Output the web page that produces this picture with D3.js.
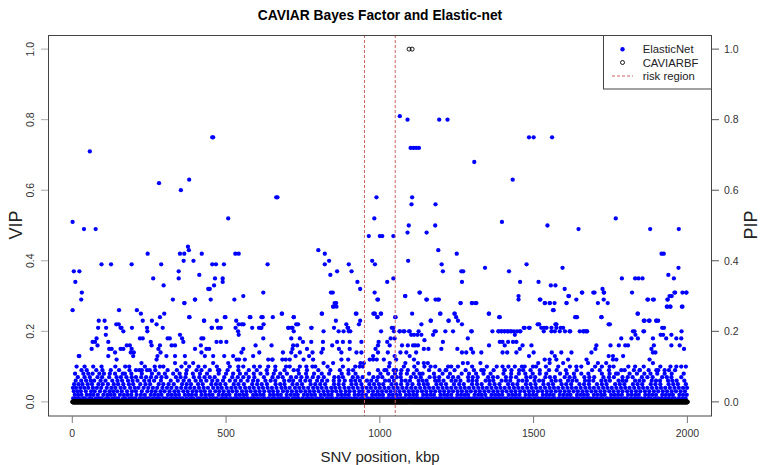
<!DOCTYPE html>
<html><head><meta charset="utf-8">
<script src="https://cdn.jsdelivr.net/npm/d3@7"></script>
<style>body{margin:0;background:#fff}svg{display:block;font-family:"Liberation Sans",Arial,Helvetica,sans-serif}</style>
</head><body><svg id="c" width="761" height="465"></svg>
<script>
// ---------------- DATA ----------------
const chartTitle = "CAVIAR Bayes Factor and Elastic-net";
const xTicks = [0, 500, 1000, 1500, 2000];
const yTicks = [0.0, 0.2, 0.4, 0.6, 0.8, 1.0];
const riskRegion = [950, 1050];
const legendLabels = ["ElasticNet", "CAVIARBF", "risk region"];

// ElasticNet VIP: high values  [position kbp, VIP]
const enTop = [[1,0.51],[38,0.49],[57,0.71],[76,0.49],[282,0.62],[353,0.60],[380,0.63],[455,0.75],[458,0.75],[507,0.52],[663,0.58],[667,0.58],[964,0.47],[982,0.52],[989,0.58],[1000,0.47],[1008,0.47],[1044,0.47],[1065,0.81],[1090,0.80],[1100,0.72],[1109,0.72],[1118,0.72],[1127,0.72],[1193,0.80],[1220,0.80],[1307,0.68],[1432,0.63],[1485,0.75],[1500,0.75],[1560,0.75],[1105,0.58],[1103,0.56],[1181,0.56],[1094,0.50],[1090,0.48],[1152,0.48],[1180,0.50],[1397,0.51],[1545,0.50],[1646,0.49],[1767,0.52],[1879,0.49],[1972,0.49]];

const enMid = [[1,0.26],[5,0.37],[23,0.37],[10,0.34],[31,0.31],[29,0.29],[95,0.39],[126,0.39],[193,0.39],[245,0.42],[263,0.35],[289,0.39],[297,0.33],[327,0.29],[346,0.37],[346,0.35],[350,0.42],[364,0.42],[362,0.40],[376,0.44],[379,0.43],[365,0.28],[381,0.24],[394,0.40],[399,0.29],[413,0.36],[421,0.42],[447,0.32],[450,0.29],[455,0.39],[467,0.39],[461,0.33],[464,0.35],[489,0.35],[489,0.34],[493,0.39],[530,0.42],[541,0.42],[527,0.29],[556,0.30],[635,0.39],[621,0.31],[800,0.43],[821,0.42],[821,0.39],[835,0.40],[839,0.36],[861,0.37],[841,0.31],[847,0.31],[849,0.27],[858,0.28],[899,0.39],[908,0.37],[927,0.34],[936,0.32],[975,0.40],[984,0.39],[983,0.31],[992,0.29],[992,0.24],[979,0.25],[922,0.25],[811,0.25],[681,0.25],
[152,0.26],[210,0.26],[223,0.25],[86,0.23],[105,0.23],[84,0.21],[110,0.21],[143,0.22],[151,0.22],[157,0.21],[160,0.21],[194,0.21],[229,0.23],[243,0.21],[259,0.23],[274,0.22],[285,0.24],[294,0.21],[299,0.25],[428,0.23],[454,0.21],[483,0.21],[470,0.23],[498,0.24],[533,0.23],[541,0.22],[551,0.22],[557,0.22],[531,0.21],[579,0.24],[607,0.21],[613,0.21],[619,0.24],[622,0.22],[652,0.24],[703,0.21],[713,0.21],[720,0.24],[728,0.22],[778,0.21],[851,0.21],[866,0.20],[857,0.23],[895,0.21],[899,0.20],[932,0.22],[936,0.23],
[1190,0.43],[1250,0.42],[1092,0.40],[1201,0.39],[1205,0.37],[1265,0.37],[1271,0.37],[1342,0.38],[1420,0.37],[1477,0.39],[1594,0.38],[1916,0.42],[1923,0.42],[1938,0.36],[1956,0.35],[1971,0.38],[1787,0.35],[1830,0.35],[1841,0.35],[1854,0.35],[1024,0.34],[1044,0.35],[1004,0.25],[1267,0.34],[1456,0.34],[1516,0.34],[1556,0.33],[1571,0.33],[1601,0.32],[1724,0.32],[1728,0.31],[1984,0.31],[1997,0.31],[1657,0.31],[1694,0.31],[1130,0.31],[1082,0.30],[1451,0.30],[1451,0.29],[1153,0.29],[1181,0.29],[1192,0.29],[1520,0.29],[1613,0.30],[1639,0.29],[1728,0.29],[1741,0.28],[1870,0.29],[1891,0.29],[1936,0.29],[1949,0.30],[1960,0.31],[1263,0.28],[1300,0.28],[1314,0.28],[1537,0.28],[1553,0.28],[1568,0.28],[1565,0.26],[1607,0.28],[1933,0.27],[1944,0.27],[1984,0.27],[1051,0.24],[1105,0.25],[1196,0.25],[1243,0.25],[1354,0.25],[1388,0.24],[1635,0.24],[1641,0.24],[1721,0.24],[1838,0.25],[1858,0.23],[1875,0.23],[1899,0.23],[1905,0.23],[1748,0.22],[1135,0.22],[1166,0.23],[1224,0.23],[1254,0.23],[1513,0.22],[1534,0.21],[1571,0.22],[1558,0.21],[1588,0.21],[1918,0.21],[1468,0.21],[1485,0.21],[1065,0.20],[1077,0.20],[1095,0.20],[1126,0.20],[1182,0.20],[1213,0.20],[1238,0.20],[1299,0.20],[1387,0.20],[1396,0.20],[1405,0.20],[1414,0.20],[1424,0.20],[1436,0.20],[1446,0.20],[1457,0.20],[1569,0.20],[1602,0.20],[1619,0.20],[1661,0.20],[1673,0.20],[1828,0.20],[1857,0.20],[1981,0.20],[1004,0.20],[1044,0.21]];

const enLow = [[21,0.13],[109,0.19],[79,0.18],[74,0.17],[66,0.17],[82,0.16],[63,0.15],[117,0.17],[120,0.15],[128,0.15],[157,0.15],[166,0.15],[177,0.16],[187,0.16],[193,0.15],[190,0.14],[200,0.14],[198,0.13],[139,0.14],[144,0.12],[117,0.13],[220,0.18],[229,0.18],[255,0.17],[258,0.16],[280,0.15],[285,0.16],[287,0.14],[277,0.13],[274,0.12],[23,0.13],[225,0.11],[185,0.10],[218,0.09],[226,0.09],[252,0.09],[285,0.10],[166,0.20],[244,0.20],
[310,0.18],[317,0.18],[350,0.19],[357,0.18],[323,0.16],[334,0.16],[361,0.17],[420,0.18],[426,0.18],[418,0.16],[436,0.15],[445,0.15],[469,0.17],[483,0.17],[501,0.17],[556,0.15],[550,0.14],[596,0.16],[621,0.18],[648,0.16],[608,0.14],[306,0.13],[334,0.13],[366,0.13],[399,0.15],[420,0.14],[431,0.13],[458,0.13],[494,0.13],[523,0.13],[534,0.12],[542,0.12],[561,0.12],[588,0.13],[637,0.12],[650,0.12],[334,0.11],[368,0.11],[393,0.11],[404,0.09],[431,0.10],[458,0.11],[474,0.09],[507,0.11],[556,0.10],[591,0.10],[637,0.10],[539,0.20],[541,0.19],[453,0.21],[474,0.21],[585,0.21],[615,0.21],[380,0.24],[429,0.23],[496,0.24],[577,0.24],[615,0.24],[364,0.28],[399,0.29],[442,0.32],
[853,0.28],[859,0.27],[848,0.27],[682,0.25],[720,0.24],[812,0.25],[924,0.25],[983,0.25],[702,0.21],[716,0.21],[720,0.20],[734,0.22],[777,0.21],[817,0.20],[891,0.22],[897,0.21],[904,0.20],[882,0.20],[712,0.18],[740,0.18],[750,0.17],[718,0.16],[731,0.16],[716,0.15],[777,0.17],[815,0.17],[845,0.16],[861,0.17],[880,0.17],[902,0.17],[940,0.17],[763,0.15],[781,0.14],[770,0.13],[810,0.14],[815,0.15],[867,0.15],[875,0.14],[902,0.15],[924,0.14],[940,0.14],[685,0.14],[712,0.14],[726,0.13],[740,0.14],[651,0.12],[683,0.12],[694,0.12],[707,0.12],[752,0.12],[783,0.12],[817,0.11],[848,0.11],[875,0.12],[897,0.12],[937,0.11],[948,0.11],[967,0.12],[978,0.12],[707,0.10],[720,0.09],[734,0.09],[761,0.10],[781,0.10],[913,0.09],[934,0.10],[945,0.10],[978,0.13],[986,0.15],[994,0.16],
[1083,0.30],[1129,0.31],[1151,0.29],[1189,0.29],[1262,0.28],[1299,0.28],[1310,0.28],[994,0.29],[983,0.25],[1003,0.25],[992,0.24],[1050,0.24],[1165,0.23],[1197,0.25],[1223,0.23],[1243,0.25],[1248,0.24],[1267,0.22],[1046,0.20],[1064,0.20],[1080,0.20],[1097,0.20],[1102,0.19],[1111,0.19],[1122,0.19],[1135,0.19],[1035,0.18],[1048,0.18],[1039,0.21],[1178,0.20],[1297,0.20],[1286,0.18],[1145,0.175],[1173,0.19],[1205,0.17],[1200,0.15],[996,0.17],[1024,0.17],[1032,0.16],[1072,0.16],[1091,0.16],[1108,0.16],[1115,0.16],[1124,0.16],[1143,0.15],[1158,0.15],[994,0.14],[1026,0.14],[1048,0.13],[1067,0.14],[1086,0.14],[1097,0.13],[1118,0.14],[1252,0.15],[1267,0.14],[1281,0.14],[1297,0.15],[1303,0.14],[990,0.12],[1013,0.12],[1032,0.11],[1053,0.12],[1083,0.11],[1111,0.12],[1124,0.11],[1143,0.11],[1156,0.11],[1165,0.10],[1145,0.10],[1232,0.10],[1243,0.09],[1254,0.10],[1270,0.11],[1286,0.11],[994,0.09],[1015,0.09],[1053,0.09],[1091,0.09],[1216,0.09],[1330,0.09],
[1522,0.29],[1536,0.28],[1552,0.28],[1615,0.30],[1607,0.28],[1658,0.31],[1563,0.26],[1355,0.25],[1390,0.24],[1639,0.24],[1366,0.20],[1385,0.20],[1395,0.20],[1406,0.20],[1417,0.20],[1428,0.20],[1439,0.19],[1455,0.20],[1471,0.21],[1487,0.21],[1518,0.22],[1525,0.21],[1533,0.20],[1542,0.21],[1558,0.20],[1574,0.22],[1574,0.21],[1585,0.20],[1596,0.21],[1617,0.20],[1650,0.20],[1663,0.20],[1355,0.16],[1390,0.17],[1399,0.17],[1406,0.16],[1417,0.17],[1433,0.17],[1444,0.17],[1464,0.16],[1493,0.16],[1455,0.15],[1399,0.14],[1414,0.14],[1444,0.14],[1485,0.13],[1500,0.14],[1552,0.12],[1559,0.14],[1569,0.13],[1590,0.14],[1623,0.14],[1330,0.14],[1327,0.11],[1399,0.10],[1406,0.09],[1428,0.09],[1439,0.10],[1453,0.09],[1471,0.10],[1498,0.10],[1515,0.11],[1536,0.12],[1552,0.11],[1574,0.12],[1596,0.11],[1612,0.12],[1639,0.10],[1655,0.10],[1672,0.12],[1674,0.20],
[1698,0.31],[1729,0.31],[1709,0.28],[1820,0.31],[1942,0.30],[1958,0.31],[1935,0.29],[1996,0.31],[1872,0.29],[1888,0.29],[1935,0.27],[1945,0.27],[1982,0.27],[1720,0.24],[1839,0.25],[1744,0.22],[1861,0.23],[1877,0.23],[1899,0.23],[1924,0.21],[1913,0.19],[1921,0.19],[1948,0.19],[1980,0.18],[1668,0.20],[1785,0.18],[1823,0.20],[1831,0.19],[1839,0.18],[1859,0.20],[1818,0.18],[1888,0.18],[1891,0.16],[1931,0.18],[1964,0.18],[1948,0.16],[1975,0.16],[1989,0.15],[1704,0.16],[1750,0.16],[1777,0.16],[1798,0.16],[1807,0.16],[1688,0.14],[1701,0.15],[1744,0.13],[1758,0.13],[1769,0.12],[1758,0.12],[1791,0.13],[1883,0.15],[1888,0.14],[1896,0.14],[1877,0.12],[1888,0.11],[1677,0.11],[1709,0.11],[1736,0.11],[1747,0.10],[1826,0.09],[1845,0.09],[1874,0.09],[1899,0.09],[1926,0.09],[1964,0.10],[1980,0.10],[1796,0.09]];

// ElasticNet VIP: dense low band, positions (kbp) for each VIP level
const bandLevels = [0.01, 0.02, 0.03, 0.04, 0.05, 0.06, 0.07, 0.08, 0.09, 0.10];
const band01 = [3,14,22,35,41,55,63,77,88,96,110,118,131,142,150,165,173,186,197,205,219,230,241,249,262,274,283,296,305,318,329,340,351,359,372,384,393,407,415,428,437,450,461,470,484,495,503,516,528,537,549,560,571,583,592,604,617,626,638,650,659,672,683,694,702,716,727,736,749,761,770,782,794,805,813,827,838,847,860,872,881,893,904,916,925,938,947,960,971,980,992,1004,1013,1026,1037,1046,1059,1071,1080,1093,1104,1115,1124,1137,1149,1158,1170,1182,1193,1202,1215,1226,1236,1248,1259,1270,1281,1292,1303,1314,1326,1335,1348,1359,1370,1381,1392,1404,1413,1426,1437,1448,1459,1470,1482,1491,1504,1515,1526,1537,1548,1560,1569,1582,1593,1604,1615,1626,1638,1647,1660,1671,1682,1693,1704,1716,1725,1738,1749,1760,1771,1782,1794,1803,1816,1827,1838,1849,1860,1872,1881,1894,1905,1916,1927,1938,1950,1959,1972,1983,1994];
const band02 = [8,19,30,47,58,69,83,101,114,125,137,155,168,180,192,209,223,236,255,267,279,290,311,323,335,347,366,378,389,402,420,433,445,456,476,489,500,511,532,544,556,567,588,599,611,622,643,655,667,678,697,710,722,733,753,765,777,789,808,820,832,843,864,876,887,899,918,930,942,955,975,987,998,1010,1030,1042,1054,1066,1085,1097,1109,1120,1141,1153,1165,1176,1197,1209,1220,1232,1252,1264,1276,1287,1308,1320,1331,1343,1363,1375,1387,1398,1419,1431,1442,1454,1474,1486,1498,1509,1530,1542,1553,1565,1585,1597,1609,1620,1641,1653,1664,1676,1696,1708,1720,1731,1752,1764,1775,1787,1807,1819,1831,1842,1863,1875,1886,1898,1918,1930,1942,1953,1974,1986,1998];
const band03 = [5,17,28,44,61,73,90,106,121,133,146,161,178,194,207,226,244,258,271,287,300,316,332,345,361,375,391,404,418,431,448,465,478,492,508,521,535,552,566,580,595,609,624,640,653,668,685,699,714,729,743,758,772,786,801,817,831,845,858,873,889,902,917,933,945,963,978,993,1007,1021,1035,1050,1064,1079,1094,1108,1122,1137,1151,1166,1180,1195,1209,1224,1238,1253,1267,1282,1296,1311,1325,1340,1354,1369,1383,1398,1412,1427,1441,1456,1470,1485,1499,1514,1528,1543,1557,1572,1586,1601,1615,1630,1644,1659,1673,1688,1702,1717,1731,1746,1760,1775,1789,1804,1818,1833,1847,1862,1876,1891,1905,1920,1934,1949,1963,1978,1992];
const band04 = [2,12,26,39,52,67,80,94,112,127,140,157,170,188,203,215,232,247,262,276,293,308,322,339,354,369,383,397,412,427,441,458,473,486,502,517,531,546,562,576,590,606,620,635,649,664,680,693,707,724,738,752,767,783,797,811,826,842,855,869,885,899,913,928,943,957,971,986,1000,1015,1029,1044,1058,1073,1087,1102,1116,1131,1146,1160,1174,1189,1204,1218,1232,1247,1262,1276,1290,1305,1320,1334,1348,1363,1378,1392,1406,1421,1436,1450,1464,1479,1494,1508,1522,1537,1552,1566,1580,1595,1610,1624,1638,1653,1668,1682,1696,1711,1726,1740,1754,1769,1784,1798,1812,1827,1842,1856,1870,1885,1900,1914,1928,1943,1958,1972,1986,1999];
const band05 = [6,20,33,50,64,85,99,116,135,149,166,184,198,221,238,253,281,296,313,330,357,372,386,409,424,452,467,481,498,525,540,558,585,601,616,633,661,676,690,716,731,747,775,790,806,822,851,866,882,908,923,940,966,981,997,1011,1038,1053,1069,1090,1106,1127,1143,1156,1184,1199,1215,1241,1258,1273,1300,1316,1331,1357,1373,1389,1417,1432,1447,1475,1490,1506,1532,1548,1563,1591,1606,1622,1649,1664,1680,1706,1722,1737,1765,1780,1795,1823,1838,1853,1881,1896,1912,1939,1954,1969,1995];
const band06 = [11,29,45,60,71,92,108,130,147,162,181,196,212,234,250,266,288,320,343,362,380,401,418,436,455,472,490,512,530,548,570,588,603,628,645,660,689,705,718,741,758,773,796,812,829,850,868,886,906,920,935,958,972,990,1017,1030,1046,1071,1084,1098,1126,1139,1152,1180,1192,1207,1233,1247,1262,1288,1301,1315,1344,1356,1369,1396,1410,1424,1451,1464,1478,1503,1518,1531,1558,1572,1587,1612,1626,1640,1667,1680,1694,1720,1734,1748,1776,1789,1801,1830,1844,1858,1884,1898,1911,1937,1951,1965,1990];
const band07 = [18,40,57,82,97,120,144,158,176,193,207,224,240,256,273,290,306,337,352,368,395,413,430,447,463,494,520,538,556,574,592,623,651,669,684,711,728,745,763,782,800,818,852,866,880,912,928,944,979,994,1008,1040,1055,1068,1101,1117,1133,1162,1178,1193,1222,1238,1255,1287,1302,1318,1352,1368,1383,1410,1426,1443,1476,1490,1505,1538,1553,1569,1601,1617,1633,1665,1681,1697,1727,1745,1761,1789,1806,1822,1852,1870,1887,1918,1933,1948,1980];
const band08 = [9,36,52,66,88,103,122,139,164,171,192,226,259,281,301,328,349,370,392,415,438,476,500,523,545,565,590,612,634,655,676,698,737,760,786,811,835,876,898,921,965,1002,1027,1049,1068,1088,1110,1129,1139,1176,1204,1228,1266,1290,1313,1337,1360,1402,1427,1452,1473,1497,1520,1541,1586,1608,1631,1655,1678,1722,1747,1768,1774,1812,1836,1860,1880,1902,1926,1949,1988];
const band09 = [30,47,78,98,125,152,186,207,243,270,310,340,372,420,447,478,505,540,574,600,632,660,690,763,800,839,870,898,1021,1045,1070,1120,1160,1194,1214,1279,1306,1338,1370,1405,1466,1490,1520,1550,1575,1605,1640,1690,1715,1745,1785,1845,1905,1940,1960];
const band10 = [14,40,68,95,140,172,236,268,296,355,380,410,470,512,540,610,660,695,740,790,830,880,920,1030,1078,1112,1180,1222,1300,1348,1380,1418,1462,1508,1540,1580,1618,1700,1722,1760,1808,1830,1858,1912,1945,1995];
const bandPositions = [band01, band02, band03, band04, band05, band06, band07, band08, band09, band10];

// CAVIARBF PIP: every SNV from 1 to 2000 kbp is 0, except two at 1.0
const caviarStart = 1, caviarEnd = 2000;
const caviarHigh = [[1095, 1.0], [1105, 1.0]];

// ---------------- DRAW ----------------
const W = 761, H = 465;
const svg = d3.select("#c");
svg.append("rect").attr("width", W).attr("height", H).attr("fill", "#fff");

const x = d3.scaleLinear().domain([-79, 2080]).range([48, 712]);
const y = d3.scaleLinear().domain([-0.04, 1.04]).range([416, 35]);

// ElasticNet points
const enPoints = [];
bandLevels.forEach((lv, i) => bandPositions[i].forEach(p => enPoints.push([p, lv])));
enLow.forEach(d => enPoints.push(d));
enMid.forEach(d => enPoints.push(d));
enTop.forEach(d => enPoints.push(d));

svg.append("g").selectAll("circle").data(enPoints).join("circle")
  .attr("cx", d => x(d[0])).attr("cy", d => y(d[1])).attr("r", 2.15)
  .attr("fill", "#0000ff");

// CAVIARBF points (open circles)
const cavPoints = d3.range(caviarStart, caviarEnd + 1)
  .filter(p => !caviarHigh.some(h => h[0] === p)).map(p => [p, 0]);
caviarHigh.forEach(d => cavPoints.push(d));
svg.append("g").selectAll("circle").data(cavPoints).join("circle")
  .attr("cx", d => x(d[0])).attr("cy", d => y(d[1])).attr("r", 2)
  .attr("fill", "none").attr("stroke", "#000").attr("stroke-width", 0.9);

// risk region lines
svg.append("g").selectAll("line").data(riskRegion).join("line")
  .attr("x1", d => x(d)).attr("x2", d => x(d)).attr("y1", 35).attr("y2", 416)
  .attr("stroke", "#d06060").attr("stroke-width", 1).attr("stroke-dasharray", "3,2");

// box
svg.append("rect").attr("x", 48.5).attr("y", 35.5).attr("width", 663).attr("height", 380.5)
  .attr("fill", "none").attr("stroke", "#444").attr("stroke-width", 1);

// x axis
const gx = svg.append("g");
xTicks.forEach(t => {
  gx.append("line").attr("x1", x(t)).attr("x2", x(t)).attr("y1", 416).attr("y2", 423)
    .attr("stroke", "#777");
  gx.append("text").attr("x", x(t)).attr("y", 437).attr("text-anchor", "middle")
    .attr("font-size", 10.5).attr("fill", "#333").text(t);
});

// left axis (VIP)
const gl = svg.append("g");
yTicks.forEach(t => {
  gl.append("line").attr("x1", 41).attr("x2", 48).attr("y1", y(t)).attr("y2", y(t))
    .attr("stroke", "#aaa");
  gl.append("text").attr("transform", `translate(34.3,${y(t)}) rotate(-90)`)
    .attr("text-anchor", "middle").attr("font-size", 10.5).attr("fill", "#333").text(t.toFixed(1));
});

// right axis (PIP)
const gr = svg.append("g");
yTicks.forEach(t => {
  gr.append("line").attr("x1", 712).attr("x2", 719).attr("y1", y(t)).attr("y2", y(t))
    .attr("stroke", "#555");
  gr.append("text").attr("x", 724).attr("y", y(t) + 3.8)
    .attr("font-size", 10.5).attr("fill", "#333").text(t.toFixed(1));
});

// titles
svg.append("text").attr("x", 380).attr("y", 20).attr("text-anchor", "middle")
  .attr("font-size", 13.8).attr("font-weight", "bold").attr("fill", "#000").text(chartTitle);
svg.append("text").attr("x", 380).attr("y", 462).attr("text-anchor", "middle")
  .attr("font-size", 15).attr("fill", "#222").text("SNV position, kbp");
svg.append("text").attr("transform", "translate(22,225) rotate(-90)").attr("text-anchor", "middle")
  .attr("font-size", 18).attr("fill", "#222").text("VIP");
svg.append("text").attr("transform", "translate(757,225) rotate(-90)").attr("text-anchor", "middle")
  .attr("font-size", 18).attr("fill", "#222").text("PIP");

// legend
const lg = svg.append("g");
lg.append("rect").attr("x", 603.5).attr("y", 35.5).attr("width", 108).attr("height", 53.5)
  .attr("fill", "#fff").attr("stroke", "#444");
const ly = [49.3, 62.5, 76];
lg.append("circle").attr("cx", 622.5).attr("cy", ly[0]).attr("r", 2.2).attr("fill", "#0000ff");
lg.append("circle").attr("cx", 622.5).attr("cy", ly[1]).attr("r", 2).attr("fill", "none")
  .attr("stroke", "#000").attr("stroke-width", 0.9);
lg.append("line").attr("x1", 612).attr("x2", 633).attr("y1", ly[2]).attr("y2", ly[2])
  .attr("stroke", "#d06060").attr("stroke-dasharray", "3,2");
legendLabels.forEach((s, i) => {
  lg.append("text").attr("x", 642.7).attr("y", ly[i] + 4).attr("font-size", 11.3)
    .attr("fill", "#222").text(s);
});
</script></body></html>
